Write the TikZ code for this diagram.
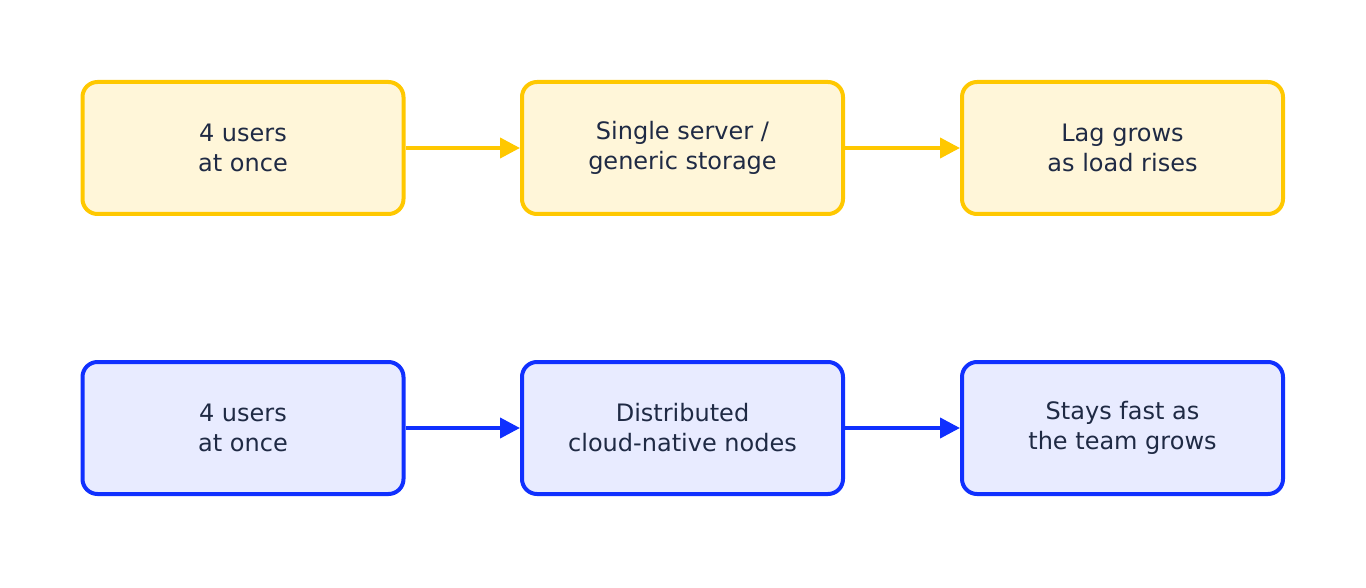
\documentclass[tikz,border=0pt]{standalone}
\usepackage{fontspec}
\setmainfont{DejaVu Sans}
\usetikzlibrary{arrows.meta}
\definecolor{ystroke}{HTML}{FFC800}
\definecolor{yfill}{HTML}{FFF6D9}
\definecolor{bstroke}{HTML}{1030FF}
\definecolor{bfill}{HTML}{E8EBFF}
\definecolor{txt}{HTML}{1F2A44}
\begin{document}
\begin{tikzpicture}[x=1pt,y=-1pt,
  box/.style={rounded corners=15pt,line width=4pt,minimum width=321pt,minimum height=132pt,align=center,text=txt,font=\fontsize{24}{30}\selectfont,inner sep=0pt},
  ybox/.style={box,draw=ystroke,fill=yfill},
  bbox/.style={box,draw=bstroke,fill=bfill},
  conn/.style={line width=4pt,-{Triangle[length=20pt,width=20pt]}}]
\useasboundingbox (0,0) rectangle (1366,588);
\node[ybox] (a1) at (243,148) {4 users\\at once};
\node[ybox] (a2) at (682.5,148) {Single server /\\generic storage};
\node[ybox] (a3) at (1122.5,148) {Lag grows\\as load rises};
\node[bbox] (b1) at (243,428) {4 users\\at once};
\node[bbox] (b2) at (682.5,428) {Distributed\\cloud-native nodes};
\node[bbox] (b3) at (1122.5,428) {Stays fast as\\the team grows};
\draw[conn,ystroke] (a1) -- (a2);
\draw[conn,ystroke] (a2) -- (a3);
\draw[conn,bstroke] (b1) -- (b2);
\draw[conn,bstroke] (b2) -- (b3);
\end{tikzpicture}
\end{document}
